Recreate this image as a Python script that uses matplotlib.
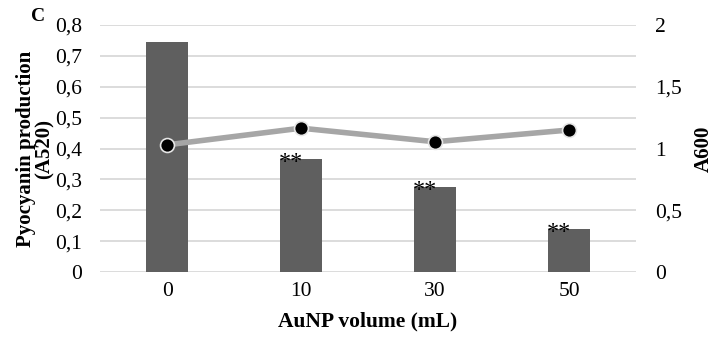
import numpy as np
import matplotlib
matplotlib.use("Agg")
import matplotlib.pyplot as plt
from matplotlib.ticker import FuncFormatter

plt.rcParams['font.family'] = ['Liberation Serif', 'DejaVu Serif']

volumes = ["0", "10", "30", "50"]
pyocyanin = [0.745, 0.365, 0.274, 0.140]     # A520, bars
a600 = [1.03, 1.165, 1.055, 1.15]             # A600, line
signif = ["", "**", "**", "**"]

x = np.arange(len(volumes))

fig = plt.figure(figsize=(7.26, 3.38), dpi=100)
ax = fig.add_axes([0.138, 0.195, 0.738, 0.731])
ax2 = ax.twinx()

ax.set_zorder(1); ax.patch.set_visible(False)
ax2.set_zorder(0)

grid_c = "#d9d9d9"
for v in np.arange(0.1, 0.81, 0.1):
    ax.axhline(v, color=grid_c, lw=1.3, zorder=0)
ax.axhline(0, color=grid_c, lw=1.3, zorder=0)

bw = 0.31
ax.bar(x, pyocyanin, width=bw, color="#5f5f5f", zorder=2)
for xi, v, s in zip(x, pyocyanin, signif):
    if s:
        ax.text(xi - bw/2 - 0.01, v - 0.045, s, ha="left", va="bottom", fontsize=17.5, zorder=3)

ax.plot(x, np.array(a600) / 2 * 0.8, color="#a6a6a6", lw=4, zorder=4,
        marker="o", ms=10, mfc="black", mec="#e6e6e6", mew=1.2)

ax.set_xlim(-0.5, 3.5)
ax.set_ylim(0, 0.8)
ax2.set_ylim(0, 2)
ax.set_yticks(np.arange(0, 0.81, 0.1))
ax2.set_yticks([0, 0.5, 1, 1.5, 2])
fmt = FuncFormatter(lambda v, p: ("%g" % round(v, 2)).replace(".", ","))
ax.yaxis.set_major_formatter(fmt)
ax2.yaxis.set_major_formatter(fmt)
ax.set_xticks(x)
ax.set_xticklabels(volumes)

for a in (ax, ax2):
    for sp in a.spines.values():
        sp.set_visible(False)
    a.tick_params(length=0, labelsize=15.5)
ax.tick_params(axis="y", pad=13)
ax2.tick_params(axis="y", pad=13.5)
ax.tick_params(axis="x", pad=7)

ax.set_ylabel("Pyocyanin production\n(A520)", fontsize=15, fontweight="bold", labelpad=0, linespacing=0.95)
ax2.set_ylabel("A600", fontsize=15, fontweight="bold", labelpad=9, rotation=90)
ax.set_xlabel("AuNP volume (mL)", fontsize=15.5, fontweight="bold", labelpad=8)
fig.text(0.052, 0.952, "C", fontsize=14, fontweight="bold", ha="center", va="center")

fig.savefig("out.png", dpi=100)
